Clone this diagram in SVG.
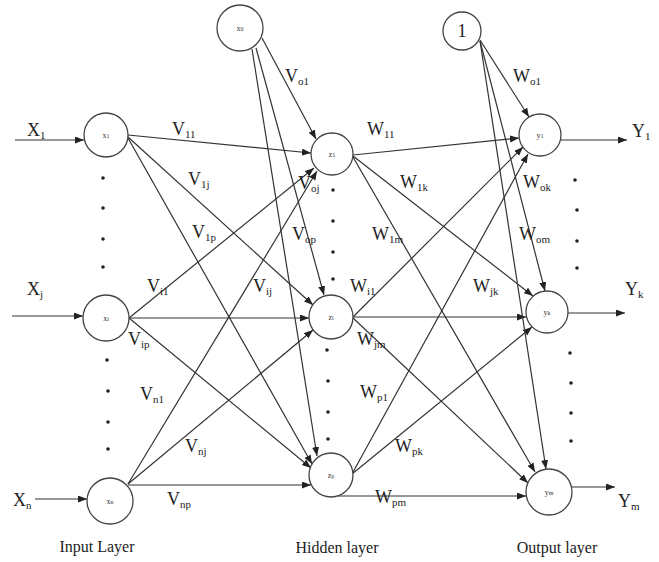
<svg xmlns="http://www.w3.org/2000/svg" width="659" height="562" viewBox="0 0 659 562">
<style>
.n{fill:#fff;stroke:#444;stroke-width:1.3}
.c line{stroke:#333;stroke-width:1.2;marker-end:url(#a)}
.t{font-family:"Liberation Serif","Times New Roman",serif;font-size:18px;fill:#222}
.s{font-size:11px}
.in{font-family:"Liberation Serif",serif;font-size:8px;fill:#333;text-anchor:middle}
.ti{font-family:"Liberation Serif","Times New Roman",serif;font-size:16px;fill:#222;text-anchor:middle}
.d{fill:#222}
</style>
<defs>
<marker id="a" markerUnits="userSpaceOnUse" markerWidth="10" markerHeight="8" refX="9" refY="3.5" orient="auto">
<path d="M0,0 L9,3.5 L0,7 Z" fill="#222"/>
</marker>
</defs>
<rect width="659" height="562" fill="#fff"/>
<g id="connectors" class="c">
<line x1="15" y1="140" x2="84" y2="140"/>
<line x1="12" y1="316" x2="83" y2="316"/>
<line x1="35" y1="499" x2="87" y2="499"/>
<line x1="561" y1="140" x2="627" y2="140"/>
<line x1="568" y1="313" x2="625" y2="313"/>
<line x1="572" y1="487" x2="615" y2="487"/>
<line x1="128" y1="135" x2="311" y2="153"/>
<line x1="128" y1="137" x2="313" y2="305"/>
<line x1="128" y1="138" x2="312" y2="464"/>
<line x1="129" y1="318" x2="314" y2="168"/>
<line x1="129" y1="318" x2="309" y2="318"/>
<line x1="129" y1="318" x2="311" y2="468"/>
<line x1="128" y1="484" x2="317" y2="171"/>
<line x1="128" y1="484" x2="313" y2="330"/>
<line x1="128" y1="485" x2="311" y2="485"/>
<line x1="262" y1="38" x2="316" y2="139"/>
<line x1="256" y1="48" x2="324" y2="295"/>
<line x1="252" y1="49" x2="317" y2="456"/>
<line x1="353" y1="155" x2="519" y2="138"/>
<line x1="353" y1="156" x2="533" y2="296"/>
<line x1="353" y1="157" x2="535" y2="472"/>
<line x1="353" y1="317" x2="523" y2="147"/>
<line x1="353" y1="317" x2="526" y2="317"/>
<line x1="353" y1="318" x2="528" y2="483"/>
<line x1="352" y1="474" x2="528" y2="154"/>
<line x1="352" y1="474" x2="532" y2="327"/>
<line x1="338" y1="496" x2="526" y2="496"/>
<line x1="480" y1="40" x2="529" y2="117"/>
<line x1="480" y1="41" x2="545" y2="291"/>
<line x1="480" y1="41" x2="546" y2="469"/>
</g>
<g id="x1"><circle class="n" cx="106" cy="135" r="22"/><text class="in" x="106" y="138">x<tspan font-size="6">1</tspan></text></g>
<g id="xi"><circle class="n" cx="106" cy="318" r="23"/><text class="in" x="106" y="321">x<tspan font-size="6">i</tspan></text></g>
<g id="xn"><circle class="n" cx="110" cy="501" r="23"/><text class="in" x="110" y="504">x<tspan font-size="6">n</tspan></text></g>
<g id="x0"><circle class="n" cx="240" cy="28" r="23"/><text class="in" x="240" y="31">x<tspan font-size="6">0</tspan></text></g>
<g id="z1"><circle class="n" cx="332" cy="154" r="21"/><text class="in" x="332" y="157">z<tspan font-size="6">1</tspan></text></g>
<g id="zi"><circle class="n" cx="331" cy="317" r="22"/><text class="in" x="331" y="320">z<tspan font-size="6">i</tspan></text></g>
<g id="zp"><circle class="n" cx="331" cy="475" r="22"/><text class="in" x="331" y="478">z<tspan font-size="6">p</tspan></text></g>
<g id="b1"><circle class="n" cx="462" cy="31" r="19"/><text class="t" x="462" y="37" text-anchor="middle" font-size="16">1</text></g>
<g id="y1"><circle class="n" cx="540" cy="135" r="21"/><text class="in" x="540" y="138">y<tspan font-size="6">1</tspan></text></g>
<g id="yk"><circle class="n" cx="547" cy="312" r="21"/><text class="in" x="547" y="315">y<tspan font-size="6">k</tspan></text></g>
<g id="ym"><circle class="n" cx="549" cy="492" r="23"/><text class="in" x="549" y="495">y<tspan font-size="6">m</tspan></text></g>
<g id="dots" class="d">
<circle cx="103" cy="178" r="1.8"/><circle cx="103" cy="208" r="1.8"/><circle cx="103" cy="239" r="1.8"/><circle cx="103" cy="267" r="1.8"/>
<circle cx="107" cy="360" r="1.8"/><circle cx="108" cy="391" r="1.8"/><circle cx="108" cy="422" r="1.8"/><circle cx="108" cy="449" r="1.8"/>
<circle cx="333" cy="190" r="1.8"/><circle cx="333" cy="221" r="1.8"/><circle cx="333" cy="252" r="1.8"/><circle cx="333" cy="279" r="1.8"/>
<circle cx="327" cy="350" r="1.8"/><circle cx="328" cy="381" r="1.8"/><circle cx="328" cy="412" r="1.8"/><circle cx="328" cy="439" r="1.8"/>
<circle cx="575" cy="180" r="1.8"/><circle cx="577" cy="210" r="1.8"/><circle cx="577" cy="241" r="1.8"/><circle cx="577" cy="268" r="1.8"/>
<circle cx="570" cy="353" r="1.8"/><circle cx="571" cy="383" r="1.8"/><circle cx="571" cy="413" r="1.8"/><circle cx="571" cy="441" r="1.8"/>
</g>
<g id="labels" class="t">
<text x="27" y="136">X<tspan class="s" dy="3">1</tspan></text>
<text x="27" y="295">X<tspan class="s" dy="3">j</tspan></text>
<text x="13" y="506">X<tspan class="s" dy="3">n</tspan></text>
<text x="632" y="137">Y<tspan class="s" dy="3">1</tspan></text>
<text x="625" y="295">Y<tspan class="s" dy="3">k</tspan></text>
<text x="618" y="507">Y<tspan class="s" dy="3">m</tspan></text>
<text x="172" y="135">V<tspan class="s" dy="3">11</tspan></text>
<text x="188" y="185">V<tspan class="s" dy="3">1j</tspan></text>
<text x="192" y="238">V<tspan class="s" dy="3">1p</tspan></text>
<text x="147" y="292">V<tspan class="s" dy="3">i1</tspan></text>
<text x="253" y="292">V<tspan class="s" dy="3">ij</tspan></text>
<text x="128" y="345">V<tspan class="s" dy="3">ip</tspan></text>
<text x="140" y="400">V<tspan class="s" dy="3">n1</tspan></text>
<text x="185" y="452">V<tspan class="s" dy="3">nj</tspan></text>
<text x="167" y="505">V<tspan class="s" dy="3">np</tspan></text>
<text x="285" y="82">V<tspan class="s" dy="3">o1</tspan></text>
<text x="298" y="189">V<tspan class="s" dy="3">oj</tspan></text>
<text x="292" y="240">V<tspan class="s" dy="3">op</tspan></text>
<text x="367" y="135">W<tspan class="s" dy="3">11</tspan></text>
<text x="400" y="188">W<tspan class="s" dy="3">1k</tspan></text>
<text x="372" y="240">W<tspan class="s" dy="3">1m</tspan></text>
<text x="350" y="292">W<tspan class="s" dy="3">i1</tspan></text>
<text x="357" y="345">W<tspan class="s" dy="3">jm</tspan></text>
<text x="473" y="292">W<tspan class="s" dy="3">jk</tspan></text>
<text x="513" y="82">W<tspan class="s" dy="3">o1</tspan></text>
<text x="523" y="188">W<tspan class="s" dy="3">ok</tspan></text>
<text x="519" y="240">W<tspan class="s" dy="3">om</tspan></text>
<text x="360" y="398">W<tspan class="s" dy="3">p1</tspan></text>
<text x="395" y="452">W<tspan class="s" dy="3">pk</tspan></text>
<text x="375" y="503">W<tspan class="s" dy="3">pm</tspan></text>
</g>
<g id="titles">
<text class="ti" x="97" y="552">Input Layer</text>
<text class="ti" x="337" y="553">Hidden layer</text>
<text class="ti" x="557" y="553">Output layer</text>
</g>
</svg>
